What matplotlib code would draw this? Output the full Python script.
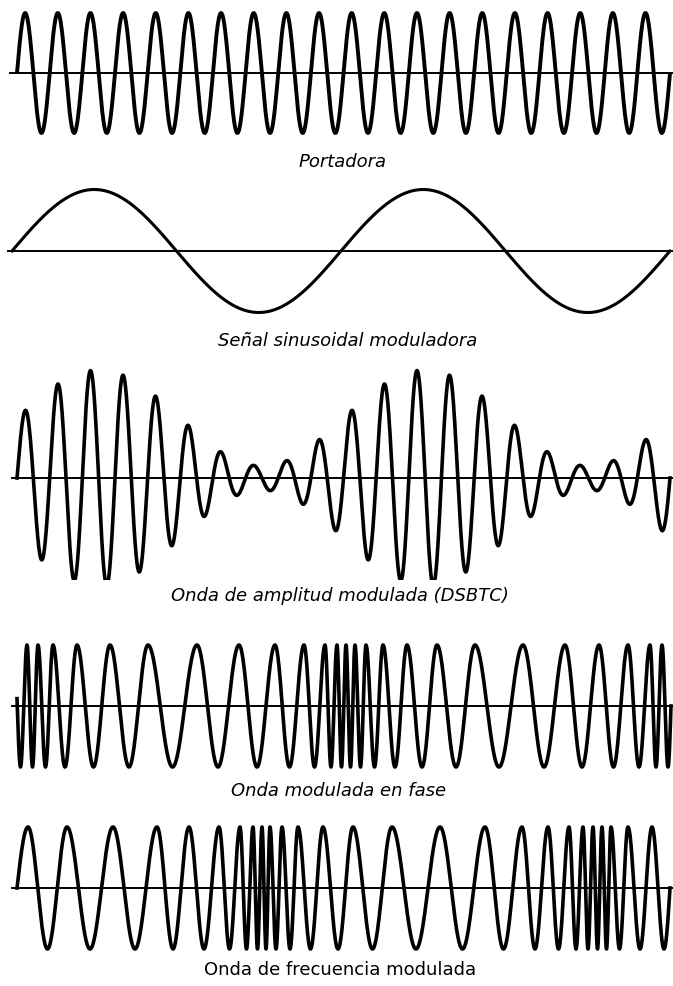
import numpy as np
import matplotlib
matplotlib.use('Agg')
import matplotlib.pyplot as plt

# valores (unidades: pixeles de la imagen)
carrier_cycles = 20
mod_cycles = 2
am_index = 0.8
carrier_amp = 60
mod_amp = 61.5
pm_amp = 61
fm_amp = 61

# picos de las ondas PM y FM (x de cada maximo), con un pico virtual en cada extremo
pm_peaks = [14, 27, 38, 53, 77, 110, 148, 197, 239, 275, 304, 325, 337, 346, 355, 366,
            383, 407, 437, 475, 523, 565, 599, 628, 650, 662, 674]
fm_peaks = [-16, 28, 67, 113, 157, 189, 219, 240, 253, 262, 270, 282, 298, 323, 353, 392,
            440, 485, 522, 548, 569, 583, 593, 602, 611, 628, 652, 676]

captions = ['Portadora', 'Señal sinusoidal moduladora', 'Onda de amplitud modulada (DSBTC)',
            'Onda modulada en fase', 'Onda de frecuencia modulada']
caption_italic = [True, True, True, True, False]

W, H = 673, 986
fig = plt.figure(figsize=(W / 100, H / 100), dpi=100)


def panel(baseline, above, below):
    # eje que ocupa una banda horizontal de la figura, en pixeles
    ax = fig.add_axes([0, 1 - (baseline + below) / H, 1, (above + below) / H])
    ax.set_xlim(0, W)
    ax.set_ylim(-below, above)
    ax.axis('off')
    return ax


def peaks_wave(x, peaks, amp):
    ph = np.interp(x, peaks, np.arange(len(peaks)))
    return amp * np.cos(2 * np.pi * ph)


# portadora
ax = panel(73, 72, 72)
x = np.linspace(17, 670, 4000)
u = (x - 17) / (670 - 17)
ax.plot([10, W], [0, 0], color='black', lw=1.4)
ax.plot(x, carrier_amp * np.sin(2 * np.pi * carrier_cycles * u), color='black', lw=2.8,
        solid_capstyle='butt')

# moduladora
ax = panel(251, 72, 72)
x = np.linspace(12, 670, 2000)
u = (x - 12) / (670 - 12)
ax.plot([8, W], [0, 0], color='black', lw=1.4)
ax.plot(x, mod_amp * np.sin(2 * np.pi * mod_cycles * u), color='black', lw=2.2)

# AM
ax = panel(478, 118, 580 - 478)
x = np.linspace(17, 670, 5000)
u = (x - 17) / (670 - 17)
env = carrier_amp * (1 + am_index * np.sin(2 * np.pi * mod_cycles * u))
ax.plot([12, W], [0, 0], color='black', lw=1.4)
ax.plot(x, env * np.sin(2 * np.pi * carrier_cycles * u), color='black', lw=2.6)

# PM
ax = panel(706, 72, 72)
x = np.linspace(17, 671, 6000)
ax.plot([12, W], [0, 0], color='black', lw=1.4)
ax.plot(x, peaks_wave(x, pm_peaks, pm_amp), color='black', lw=2.6)

# FM
ax = panel(888, 72, 72)
x = np.linspace(17, 670, 6000)
ax.plot([12, W], [0, 0], color='black', lw=1.4)
ax.plot(x, peaks_wave(x, fm_peaks, fm_amp), color='black', lw=2.6)

cap_x = [343, 348, 340, 339, 340]
cap_y = [162, 341, 596, 791, 970]
for txt, xx, yy, it in zip(captions, cap_x, cap_y, caption_italic):
    fig.text(xx / W, 1 - yy / H, txt, ha='center', va='center', fontsize=13,
             style='italic' if it else 'normal', family='DejaVu Sans')

fig.savefig('out.png', dpi=100, facecolor='white')
